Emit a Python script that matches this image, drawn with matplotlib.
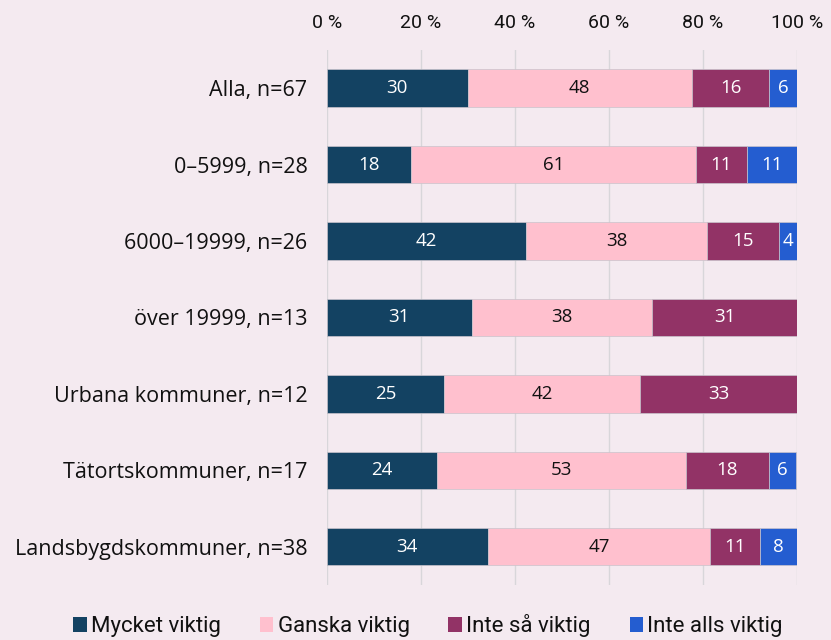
import matplotlib
matplotlib.use("Agg")
import matplotlib.pyplot as plt
import numpy as np

plt.rcParams['font.family'] = ['Open Sans', 'DejaVu Sans']

categories = ["Alla, n=67", "0–5999, n=28", "6000–19999, n=26", "över 19999, n=13",
              "Urbana kommuner, n=12", "Tätortskommuner, n=17", "Landsbygdskommuner, n=38"]
series_names = ["Mycket viktig", "Ganska viktig", "Inte så viktig", "Inte alls viktig"]
mycket = [29.9, 17.9, 42.4, 30.8, 25.0, 23.5, 34.2]
ganska = [47.8, 60.7, 38.4, 38.4, 41.7, 52.9, 47.4]
inte_sa = [16.4, 10.7, 15.4, 30.8, 33.3, 17.6, 10.6]
inte_alls = [6.0, 10.7, 3.8, 0.0, 0.0, 5.9, 7.9]
xticks = [0, 20, 40, 60, 80, 100]
xtick_labels = ["0 %", "20 %", "40 %", "60 %", "80 %", "100 %"]

colors = ["#134262", "#FFC0CE", "#923366", "#245DD0"]
text_colors = ["white", "#111111", "white", "white"]
bg = "#F4EAF0"

fig = plt.figure(figsize=(8.31, 6.4), dpi=100, facecolor=bg)
ax = fig.add_axes([0.3935, 0.086, 0.5655, 0.836], facecolor=bg)

y = np.arange(len(categories))
left = np.zeros(len(categories))
series = [mycket, ganska, inte_sa, inte_alls]
for vals, name, col, tc in zip(series, series_names, colors, text_colors):
    vals = np.array(vals)
    ax.barh(y, vals, left=left, height=0.49, color=col, label=name,
            edgecolor="#c9c4cc", linewidth=0.5, zorder=3)
    for yi, l, v in zip(y, left, vals):
        if v > 0:
            ax.text(l + v / 2, yi, f"{int(v + 0.5)}", ha="center", va="center",
                    color=tc, fontsize=13.5, zorder=4)
    left += vals

ax.set_xlim(0, 100)
ax.set_ylim(6.5, -0.5)
ax.set_yticks(y)
ax.set_yticklabels(categories, fontsize=15.5, color="#111111")
ax.set_xticks(xticks)
ax.set_xticklabels(xtick_labels, fontsize=14, color="#111111", family=["Roboto", "DejaVu Sans"])
ax.xaxis.tick_top()
ax.tick_params(axis="both", length=0)
ax.tick_params(axis="x", pad=13)
ax.tick_params(axis="y", pad=14)
ax.grid(axis="x", color="#d8d6da", linewidth=1, zorder=0)
for s in ax.spines.values():
    s.set_visible(False)

leg = fig.legend(loc="lower center", bbox_to_anchor=(0.515, -0.027), ncol=4, frameon=False,
                 prop={"family": ["Roboto", "DejaVu Sans"], "size": 16},
                 handlelength=0.6, handleheight=0.6, handletextpad=0.2,
                 columnspacing=1.75)
for h in leg.legend_handles:
    h.set_edgecolor("none")
for t in leg.get_texts():
    t.set_color("#111111")

fig.savefig("out.png", dpi=100, facecolor=bg)
